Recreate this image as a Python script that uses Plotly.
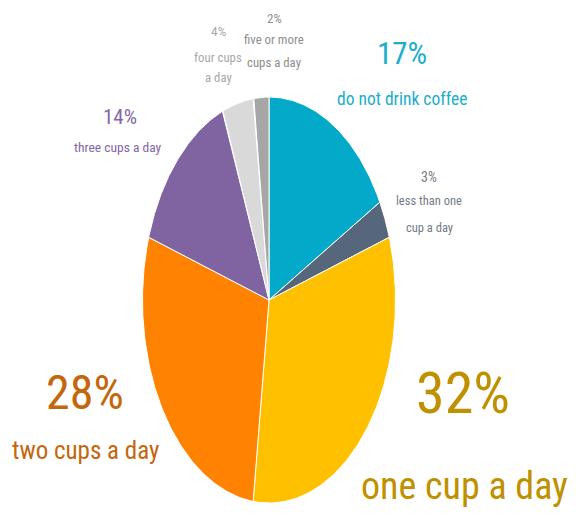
import numpy as np
import plotly.graph_objects as go

# Daily coffee consumption shares
categories = ["do not drink coffee", "less than one cup a day", "one cup a day",
              "two cups a day", "three cups a day", "four cups a day",
              "five or more cups a day"]
shares = [17, 3, 32, 28, 14, 4, 2]

slice_colors = ["#03A9C9", "#56667B", "#FFC000", "#FF8200", "#8064A2", "#D9D9D9", "#A6A6A6"]
label_colors = ["#1AADCB", "#747B86", "#BF9000", "#C4660C", "#8466A6", "#A8A8A8", "#8E8E8E"]

# Label layout: pixel centre of the percentage, size, then the caption lines
# (each as pixel centre and size)
label_layout = [
    dict(pct=(402, 53, 31), lines=[("do not drink coffee", 402, 99, 17.5)]),
    dict(pct=(429, 177, 14), lines=[("less than one", 429, 200, 12.5), ("cup a day", 429, 227, 12.5)]),
    dict(pct=(463, 393, 58), lines=[("one cup a day", 464, 486, 38)]),
    dict(pct=(85, 392, 48), lines=[("two cups a day", 85, 450, 25)]),
    dict(pct=(120, 117, 21), lines=[("three cups a day", 118, 147, 13.5)]),
    dict(pct=(218, 31, 13.5), lines=[("four cups", 218, 57, 12.8), ("a day", 218, 78, 12.8)]),
    dict(pct=(274, 18, 13), lines=[("five or more", 274, 40, 12.8), ("cups a day", 274, 63, 12.8)]),
]

W, H = 576, 515
FONT = "Roboto Condensed, Liberation Sans Narrow, sans-serif"

fig = go.Figure()

# Wedges of a unit pie, starting at 12 o'clock and running clockwise
bounds = np.concatenate([[0.0], np.cumsum(shares)]) / float(sum(shares))
for i, (name, val) in enumerate(zip(categories, shares)):
    t = np.linspace(bounds[i], bounds[i + 1], 120) * 2 * np.pi
    xs = np.concatenate([[0.0], np.sin(t), [0.0]])
    ys = np.concatenate([[0.0], np.cos(t), [0.0]])
    fig.add_trace(go.Scatter(
        x=xs, y=ys, mode="lines", fill="toself",
        fillcolor=slice_colors[i], line=dict(color="white", width=1),
        name=name, hoveron="fills", text=f"{name}: {val}%", hoverinfo="text",
        showlegend=False,
    ))

def px_to_paper(px, py):
    return px / W, 1 - py / H

for val, lay, col in zip(shares, label_layout, label_colors):
    px, py, size = lay["pct"]
    x, y = px_to_paper(px, py)
    fig.add_annotation(x=x, y=y, xref="paper", yref="paper", text=f"{val}%",
                       showarrow=False, xanchor="center", yanchor="middle",
                       font=dict(family=FONT, size=size, color=col))
    for txt, lx, ly, lsize in lay["lines"]:
        x, y = px_to_paper(lx, ly)
        fig.add_annotation(x=x, y=y, xref="paper", yref="paper", text=txt,
                           showarrow=False, xanchor="center", yanchor="middle",
                           font=dict(family=FONT, size=lsize, color=col))

# Independent x/y scales stretch the unit pie into a tall ellipse
cx, cy, rx, ry = 269.0, 300.0, 126.5, 203.0
x0 = -cx / rx
x1 = x0 + W / rx
y1 = cy / ry
y0 = y1 - H / ry
fig.update_xaxes(range=[x0, x1], visible=False, domain=[0, 1])
fig.update_yaxes(range=[y0, y1], visible=False, domain=[0, 1])

fig.update_layout(
    width=W, height=H,
    margin=dict(l=0, r=0, t=0, b=0),
    plot_bgcolor="white", paper_bgcolor="white",
    showlegend=False,
)

fig.write_html("out.html")
